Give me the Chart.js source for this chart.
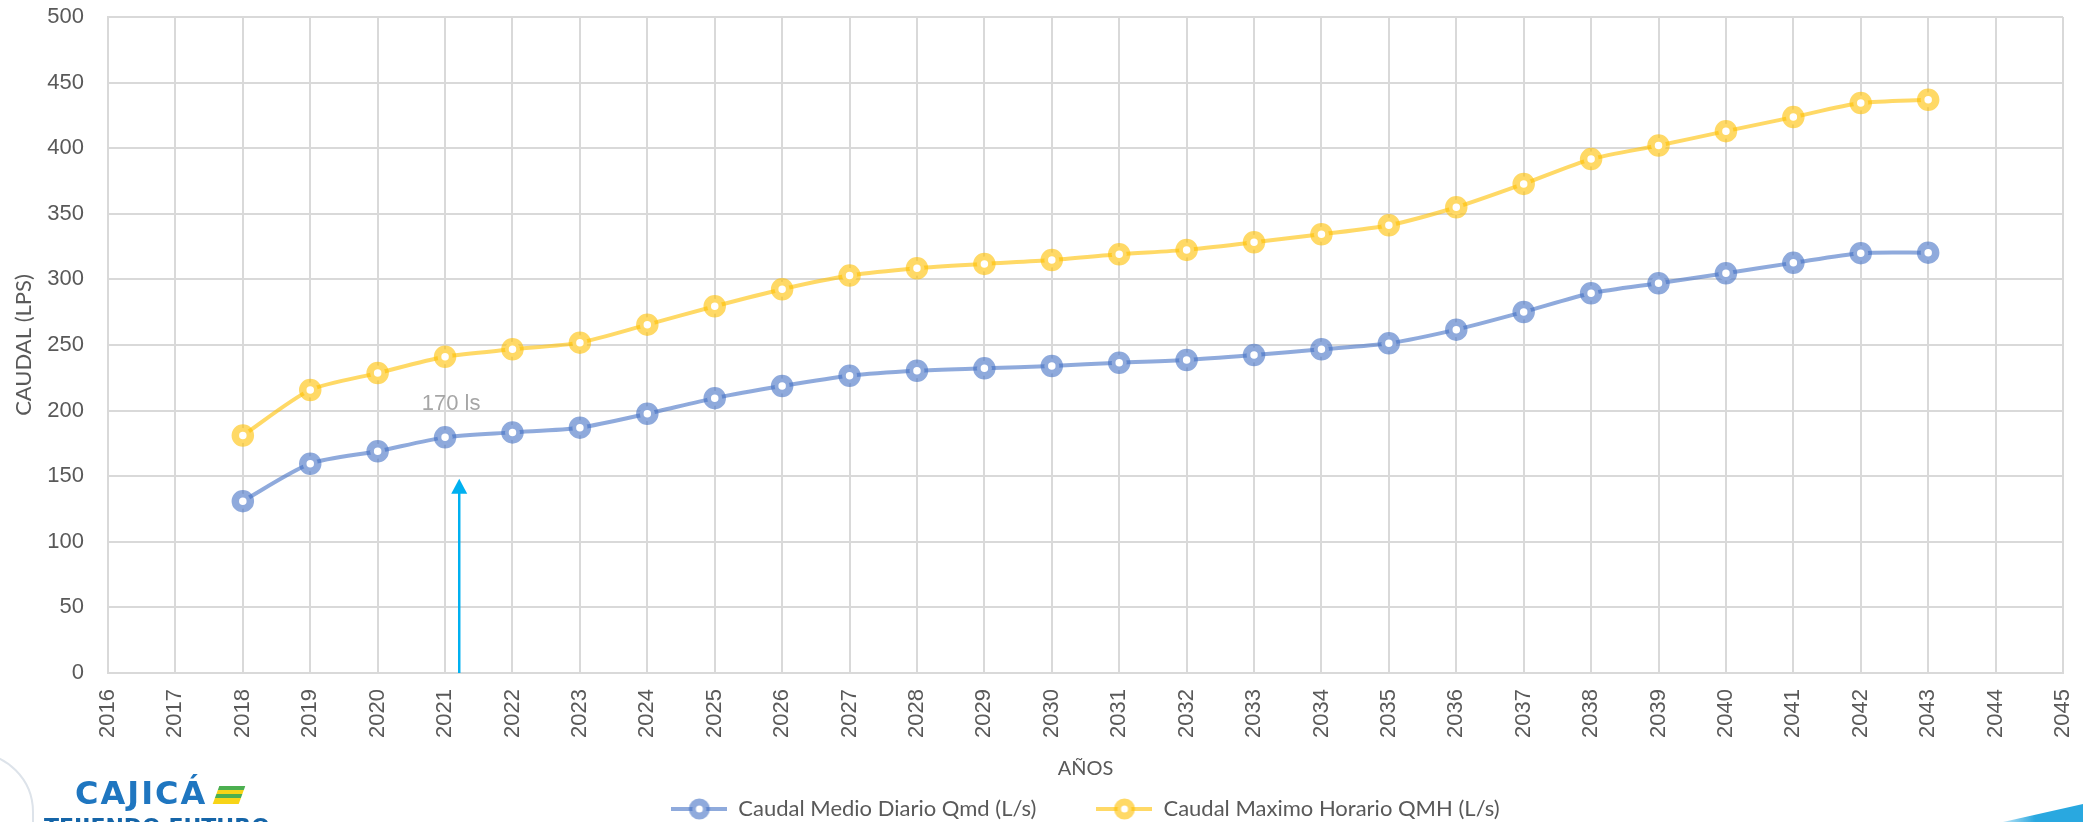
<!DOCTYPE html>
<html>
<head>
<meta charset="utf-8">
<script src="https://cdn.jsdelivr.net/npm/chart.js@4.4.0/dist/chart.umd.min.js"></script>
<style>
  html, body { margin: 0; padding: 0; background: #fff; overflow: hidden; }
  #wrap { position: relative; width: 2083px; height: 822px; overflow: hidden; }
  canvas { display: block; }
  .logo { position: absolute; left: 44px; top: 774px; font-family: "DejaVu Sans", sans-serif; font-weight: bold; }
  .logo .top { position: absolute; left: 31px; top: 0; font-size: 32px; color: #1f76c0; letter-spacing: 2px; white-space: nowrap; }
  .logo .flag { position: absolute; left: 172px; top: 12px; width: 26px; height: 18px; transform: skewX(-20deg);
    background: linear-gradient(#4caf50 0 22%, #f7d417 22% 45%, #4caf50 45% 66%, #f7d417 66% 100%); }
  .logo .bottom { position: absolute; left: 0; top: 40px; font-size: 22px; color: #1565a8; white-space: nowrap; }
  .sketch { position: absolute; left: -40px; top: 752px; width: 70px; height: 120px; border: 2px solid #dde3ea; border-radius: 0 60px 0 0; }
  .swoosh { position: absolute; right: 0; bottom: 0; width: 80px; height: 18px; background: linear-gradient(90deg, rgba(41,168,224,0.3), #29a8e0 40%);
    clip-path: polygon(0 100%, 100% 0, 100% 100%); }
</style>
</head>
<body>
<div id="wrap">
  <canvas id="caudalChart" width="2083" height="822"></canvas>
  <div class="sketch"></div>
  <div class="logo">
    <div class="top">CAJICÁ</div>
    <div class="flag"></div>
    <div class="bottom">TEJIENDO FUTURO</div>
  </div>
  <div class="swoosh"></div>
</div>
<script>
// Caudales proyectados por año
const years = [2018, 2019, 2020, 2021, 2022, 2023, 2024, 2025, 2026, 2027, 2028, 2029, 2030,
               2031, 2032, 2033, 2034, 2035, 2036, 2037, 2038, 2039, 2040, 2041, 2042, 2043];
const caudalMedio = [131, 159.5, 169, 179.6, 183.4, 187, 197.6, 209.5, 218.7, 226.6, 230.4, 232.2, 234,
                     236.5, 238.6, 242.4, 246.7, 251.3, 261.7, 275.2, 289.4, 297.1, 304.7, 312.6, 320, 320.4];
const caudalMaximo = [181, 215.7, 228.6, 241.1, 246.7, 251.8, 265.5, 279.5, 292.5, 302.9, 308.5, 311.8, 314.8,
                      319.2, 322.5, 328.3, 334.4, 341.3, 355, 372.8, 391.7, 402, 413, 423.7, 434.4, 436.9];
const seriesLabels = ['Caudal Medio Diario Qmd (L/s)', 'Caudal Maximo Horario QMH (L/s)'];
const xMin = 2016, xMax = 2045;
const yMin = 0, yMax = 500, yStep = 50;

// flecha y etiqueta
const marcaAnio = 2021.21;
const marcaTope = 148;
const etiquetaAnio = 2021.09;
const etiquetaCaudal = 205;
const etiquetaTexto = '170 ls';

const blue = 'rgba(68, 114, 196, 0.6)';
const yellow = 'rgba(255, 192, 0, 0.6)';
const gridColor = '#d9d9d9';
const textColor = '#595959';

function legendSymbol(color) {
    const c = document.createElement('canvas');
    c.width = 56; c.height = 24;
    const g = c.getContext('2d');
    g.strokeStyle = color;
    g.lineWidth = 4;
    g.beginPath(); g.moveTo(0, 12); g.lineTo(56, 12); g.stroke();
    g.beginPath(); g.arc(28, 12, 7, 0, Math.PI * 2);
    g.fillStyle = '#fff'; g.fill();
    g.lineWidth = 7; g.stroke();
    return c;
}

const arrowPlugin = {
    id: 'arrowNote',
    afterDatasetsDraw(chart) {
        const {ctx, scales: {x, y}} = chart;
        const px = x.getPixelForValue(marcaAnio);
        const y0 = y.getPixelForValue(0);
        const y1 = y.getPixelForValue(marcaTope);
        ctx.save();
        ctx.strokeStyle = '#00b0f0';
        ctx.fillStyle = '#00b0f0';
        ctx.lineWidth = 2.5;
        ctx.beginPath(); ctx.moveTo(px, y0); ctx.lineTo(px, y1 + 12); ctx.stroke();
        ctx.beginPath();
        ctx.moveTo(px, y1); ctx.lineTo(px - 8, y1 + 15); ctx.lineTo(px + 8, y1 + 15);
        ctx.closePath(); ctx.fill();
        ctx.font = '22px "Liberation Sans", Arial, sans-serif';
        ctx.fillStyle = '#a6a6a6';
        ctx.textAlign = 'center';
        ctx.textBaseline = 'middle';
        ctx.fillText(etiquetaTexto, x.getPixelForValue(etiquetaAnio), y.getPixelForValue(etiquetaCaudal));
        ctx.restore();
    }
};

const ctx = document.getElementById('caudalChart').getContext('2d');
new Chart(ctx, {
    type: 'line',
    data: {
        datasets: [{
            label: seriesLabels[0],
            data: years.map((yr, i) => ({x: yr, y: caudalMedio[i]})),
            borderColor: blue,
            backgroundColor: '#fff',
            pointBorderColor: blue,
            pointBackgroundColor: '#fff',
            borderWidth: 4,
            pointRadius: 7.5,
            pointBorderWidth: 7.5,
            pointHoverRadius: 7.5,
            tension: 0.25,
            legendSymbol: legendSymbol(blue)
        }, {
            label: seriesLabels[1],
            data: years.map((yr, i) => ({x: yr, y: caudalMaximo[i]})),
            borderColor: yellow,
            backgroundColor: '#fff',
            pointBorderColor: yellow,
            pointBackgroundColor: '#fff',
            borderWidth: 4,
            pointRadius: 7.5,
            pointBorderWidth: 7.5,
            pointHoverRadius: 7.5,
            tension: 0.25,
            legendSymbol: legendSymbol(yellow)
        }]
    },
    options: {
        responsive: false,
        animation: false,
        events: [],
        layout: {
            padding: {top: 0, right: 0, left: 0, bottom: -8}
        },
        scales: {
            x: {
                type: 'linear',
                min: xMin,
                max: xMax,
                afterFit: (scale) => {
                    scale.height = 65;
                    scale.paddingLeft = 0;
                    scale.paddingRight = 20;
                },
                ticks: {
                    stepSize: 1,
                    autoSkip: false,
                    maxRotation: 90,
                    minRotation: 90,
                    padding: 16,
                    color: textColor,
                    font: {family: '"Liberation Sans", Arial, sans-serif', size: 22},
                    callback: (v) => String(v)
                },
                grid: {color: gridColor, lineWidth: 2, drawTicks: false},
                border: {color: gridColor, width: 2},
                title: {
                    display: true,
                    text: 'AÑOS',
                    color: textColor,
                    font: {family: 'Lato, sans-serif', size: 20},
                    padding: {top: 0, bottom: -43}
                }
            },
            y: {
                min: yMin,
                max: yMax,
                afterFit: (scale) => {
                    scale.width = 108;
                    scale.paddingTop = 17;
                    scale.paddingBottom = 0;
                },
                ticks: {
                    stepSize: yStep,
                    padding: 24,
                    color: textColor,
                    font: {family: '"Liberation Sans", Arial, sans-serif', size: 22}
                },
                grid: {color: gridColor, lineWidth: 2, drawTicks: false},
                border: {color: gridColor, width: 2},
                title: {
                    display: true,
                    text: 'CAUDAL (LPS)',
                    color: textColor,
                    font: {family: 'Lato, sans-serif', size: 22},
                    padding: {top: 11, bottom: 0}
                }
            }
        },
        plugins: {
            legend: {
                position: 'bottom',
                fullSize: false,
                labels: {
                    usePointStyle: true,
                    pointStyleWidth: 56,
                    padding: 60,
                    color: textColor,
                    font: {family: 'Lato, sans-serif', size: 22},
                    generateLabels: function (chart) {
                        return chart.data.datasets.map((ds, i) => ({
                            text: ds.label,
                            pointStyle: ds.legendSymbol,
                            fontColor: textColor,
                            lineWidth: 0,
                            strokeStyle: 'transparent',
                            fillStyle: 'transparent',
                            datasetIndex: i
                        }));
                    }
                }
            },
            tooltip: {enabled: false}
        }
    },
    plugins: [arrowPlugin]
});
</script>
</body>
</html>
